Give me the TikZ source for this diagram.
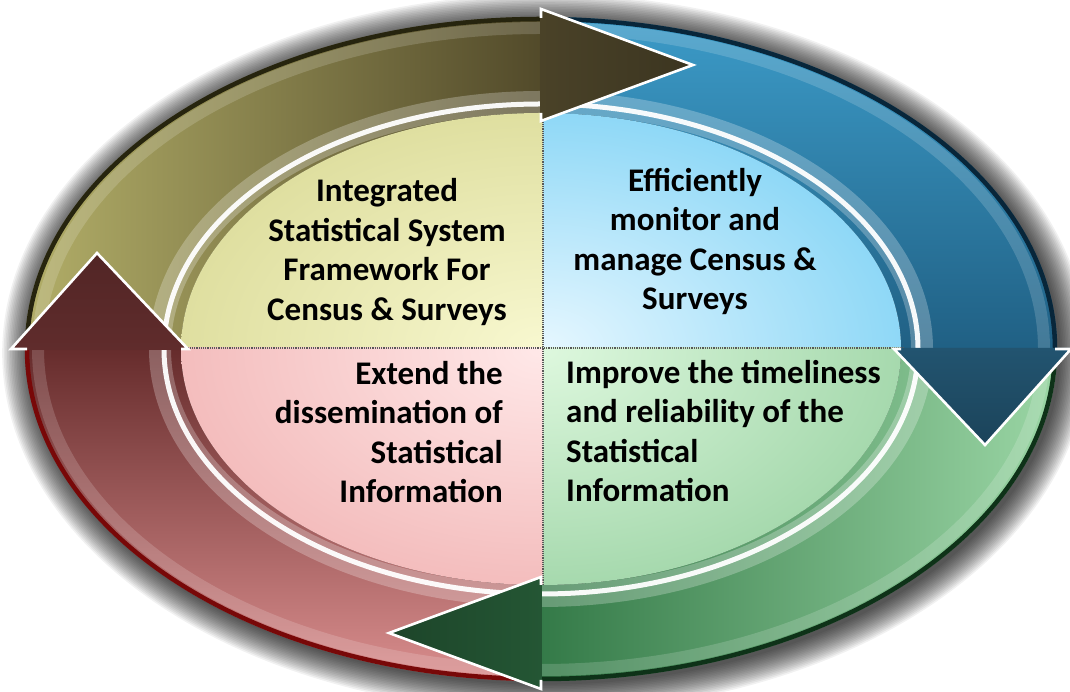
\documentclass[tikz,border=0pt]{standalone}
\usepackage{fontspec}
\setmainfont{Carlito}
\usetikzlibrary{calc}
% olive
\definecolor{olL}{RGB}{178,174,104}
\definecolor{olD}{RGB}{82,74,42}
\definecolor{olH}{RGB}{74,66,40}
\definecolor{olE}{RGB}{38,36,14}
\definecolor{olC}{RGB}{248,248,208}
\definecolor{olR}{RGB}{198,198,112}
% blue
\definecolor{blL}{RGB}{60,155,200}
\definecolor{blD}{RGB}{32,96,132}
\definecolor{blH}{RGB}{34,84,112}
\definecolor{blE}{RGB}{8,38,58}
\definecolor{blC}{RGB}{230,247,255}
\definecolor{blR}{RGB}{55,185,238}
% green
\definecolor{grL}{RGB}{155,214,165}
\definecolor{grD}{RGB}{52,122,72}
\definecolor{grH}{RGB}{36,86,52}
\definecolor{grE}{RGB}{14,50,24}
\definecolor{grC}{RGB}{222,248,222}
\definecolor{grR}{RGB}{110,186,125}
% red
\definecolor{rdL}{RGB}{218,142,142}
\definecolor{rdD}{RGB}{102,44,44}
\definecolor{rdH}{RGB}{96,44,44}
\definecolor{rdE}{RGB}{120,8,8}
\definecolor{rdC}{RGB}{255,232,232}
\definecolor{rdR}{RGB}{232,146,146}
\pgfdeclareradialshading{olin}{\pgfpointorigin}{color(0bp)=(olC); color(50bp)=(olR); color(100bp)=(olR)}
\pgfdeclareradialshading{blin}{\pgfpointorigin}{color(0bp)=(blC); color(50bp)=(blR); color(100bp)=(blR)}
\pgfdeclareradialshading{grin}{\pgfpointorigin}{color(0bp)=(grC); color(50bp)=(grR); color(100bp)=(grR)}
\pgfdeclareradialshading{rdin}{\pgfpointorigin}{color(0bp)=(rdC); color(50bp)=(rdR); color(100bp)=(rdR)}
\tikzset{
  headedge/.style={white, line width=2.6pt, line join=miter},
  rimedge/.style={line width=4.5pt},
  divider/.style={densely dotted, line width=1.2pt, black!65},
  label/.style={inner sep=0pt, font=\bfseries\fontsize{33pt}{39.5pt}\selectfont, text=black},
}
\begin{document}
\begin{tikzpicture}[x=1pt,y=1pt]
\useasboundingbox (0,0) rectangle (1070,692);
\fill[white] (0,0) rectangle (1070,692);
\begin{scope}[shift={(541,343)}]
\coordinate (C) at (0,0);
% soft shadow
\foreach \i in {1,...,18} {
  \fill[black,opacity=0.055] (4pt,-4pt) ellipse [x radius=514pt+1.6pt*\i, y radius=330pt+1.6pt*\i];
}
% band bodies
\shade[left color=olL, right color=olD] (180:516pt and 332pt) arc[start angle=180, end angle=90, x radius=516pt, y radius=332pt] -- (90:360pt and 236pt) arc[start angle=90, end angle=180, x radius=360pt, y radius=236pt] -- cycle;
\shade[top color=blL, bottom color=blD] (90:516pt and 332pt) arc[start angle=90, end angle=0, x radius=516pt, y radius=332pt] -- (0:360pt and 236pt) arc[start angle=0, end angle=90, x radius=360pt, y radius=236pt] -- cycle;
\shade[right color=grL, left color=grD] (0:516pt and 332pt) arc[start angle=360, end angle=270, x radius=516pt, y radius=332pt] -- (270:360pt and 236pt) arc[start angle=270, end angle=360, x radius=360pt, y radius=236pt] -- cycle;
\shade[bottom color=rdL, top color=rdD] (270:516pt and 332pt) arc[start angle=270, end angle=180, x radius=516pt, y radius=332pt] -- (180:360pt and 236pt) arc[start angle=180, end angle=270, x radius=360pt, y radius=236pt] -- cycle;
% bevels
\draw[white, opacity=0.16, line width=12pt] (C) ellipse [x radius=503pt, y radius=321pt];
\draw[white, opacity=0.25, line width=22pt] (C) ellipse [x radius=381pt, y radius=247pt];
\draw[white, opacity=0.95, line width=5pt] (C) ellipse [x radius=377pt, y radius=245pt];
% rim edges
\draw[rimedge, olE] (180:514pt and 330pt) arc[start angle=180, end angle=90, x radius=514pt, y radius=330pt];
\draw[rimedge, blE] (90:514pt and 330pt) arc[start angle=90, end angle=0, x radius=514pt, y radius=330pt];
\draw[rimedge, grE] (0:514pt and 330pt) arc[start angle=360, end angle=270, x radius=514pt, y radius=330pt];
\draw[rimedge, rdE] (270:514pt and 330pt) arc[start angle=270, end angle=180, x radius=514pt, y radius=330pt];
% inner quadrants
\begin{scope}\clip (2,1) rectangle (-400,300);
\shade[shading=olin] (C) ellipse [x radius=360pt, y radius=236pt];\end{scope}
\begin{scope}\clip (2,1) rectangle (400,300);
\shade[shading=blin] (C) ellipse [x radius=360pt, y radius=236pt];\end{scope}
\begin{scope}\clip (2,1) rectangle (400,-300);
\shade[shading=grin] (C) ellipse [x radius=360pt, y radius=236pt];\end{scope}
\begin{scope}\clip (2,1) rectangle (-400,-300);
\shade[shading=rdin] (C) ellipse [x radius=360pt, y radius=236pt];\end{scope}
% dividers
\coordinate (vt) at (2,236);
\coordinate (vb) at (2,-236);
\coordinate (hl) at (-360,1);
\coordinate (hr) at (362,1);
\draw[divider] (vt) -- (vb);
\draw[divider] (hl) -- (hr);
% arrow heads
\shade[left color=olH, right color=olH!80!black] (-1,340) -- (152,284) -- (-1,228) -- cycle;
\draw[headedge] (0,331) -- (0,340) -- (152,284) -- (0,228) -- (0,236);
\shade[top color=blH, bottom color=blH!80!black] (530,1) -- (444,-96) -- (353,1) -- cycle;
\draw[headedge] (514,0) -- (530,0) -- (444,-96) -- (353,0) -- (360,0);
\shade[right color=grH, left color=grH!80!black] (1,-340) -- (-152,-284) -- (1,-228) -- cycle;
\draw[headedge] (0,-331) -- (0,-340) -- (-152,-284) -- (0,-228) -- (0,-236);
\shade[bottom color=rdH, top color=rdH!85!black] (-530,-1) -- (-444,96) -- (-353,-1) -- cycle;
\draw[headedge] (-514,0) -- (-530,0) -- (-444,96) -- (-353,0) -- (-360,0);
% texts
\node[label, align=center] (tl) at (-154,97) {Integrated\\Statistical System\\Framework For\\Census \& Surveys};
\node[label, align=center] (tr) at (154,107.5) {Efficiently\\monitor and\\manage Census \&\\Surveys};
\node[label, align=right, anchor=east] (bl) at (-38,-83) {Extend the\\dissemination of\\Statistical\\Information};
\node[label, align=left, anchor=west] (br) at (25,-82) {Improve the timeliness\\and reliability of the\\Statistical\\Information};
\end{scope}
\end{tikzpicture}
\end{document}
